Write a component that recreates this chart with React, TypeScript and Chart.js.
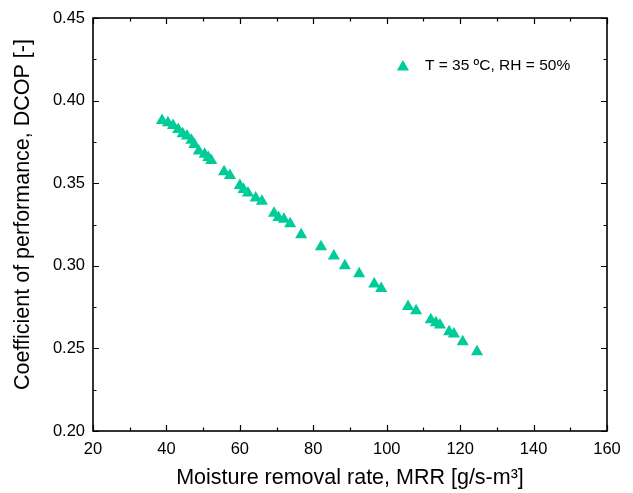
import React, { useEffect, useRef } from 'react';
import { Chart, registerables } from 'chart.js';

Chart.register(...registerables);

// Moisture removal rate, MRR [g/s-m3]
const mrr = [
  38.8, 40.4, 41.8, 43.2, 44.4, 45.6, 46.8, 47.6, 48.8, 50.4, 51.4, 52.2,
  55.7, 57.3, 60.0, 61.0, 62.2, 64.3, 66.0, 69.3, 70.5, 72.0, 73.7, 76.7,
  82.1, 85.6, 88.6, 92.5, 96.6, 98.5, 105.8, 108.0, 112.0, 113.4, 114.5,
  117.0, 118.3, 120.7, 124.6,
];
// Coefficient of performance, DCOP [-]
const dcop = [
  0.388, 0.3866, 0.385, 0.3825, 0.380, 0.3785, 0.376, 0.3735, 0.3695, 0.3675,
  0.3655, 0.3638, 0.357, 0.3546, 0.3486, 0.3462, 0.344, 0.341, 0.339, 0.3318,
  0.3292, 0.3282, 0.3255, 0.3188, 0.3116, 0.306, 0.3001, 0.2952, 0.2890,
  0.2862, 0.2753, 0.2728, 0.2674, 0.2655, 0.2642, 0.2601, 0.2587, 0.2541,
  0.2480,
];
const seriesLabel = 'T = 35 \u00BAC, RH = 50%';
const xTitle = 'Moisture removal rate, MRR [g/s-m\u00B3]';
const yTitle = 'Coefficient of performance, DCOP [-]';
const xRange = [20, 160];
const yRange = [0.2, 0.45];
const xMajorStep = 20;
const xMinorStep = 10;
const yMajorStep = 0.05;
const yMinorStep = 0.025;

const COLOR = '#00CC99';
const FONT = '"Liberation Sans", Arial, sans-serif';

const framePlugin = {
  id: 'frameTicks',
  afterDraw(chart: any) {
    const { ctx, chartArea, scales } = chart;
    const { left, right, top, bottom } = chartArea;
    const x = scales.x;
    const y = scales.y;
    ctx.save();
    ctx.strokeStyle = '#000';
    ctx.lineWidth = 1.2;
    // x ticks (bottom and top, inward)
    const nx = Math.round((xRange[1] - xRange[0]) / xMinorStep);
    for (let i = 0; i <= nx; i++) {
      const v = xRange[0] + i * xMinorStep;
      const px = Math.round(x.getPixelForValue(v)) + 0.5;
      const major = Math.abs(v / xMajorStep - Math.round(v / xMajorStep)) < 1e-6;
      const len = major ? 6 : 3.5;
      ctx.beginPath();
      ctx.moveTo(px, bottom);
      ctx.lineTo(px, bottom - len);
      ctx.moveTo(px, top);
      ctx.lineTo(px, top + len);
      ctx.stroke();
    }
    const ny = Math.round((yRange[1] - yRange[0]) / yMinorStep);
    for (let i = 0; i <= ny; i++) {
      const v = yRange[0] + i * yMinorStep;
      const py = Math.round(y.getPixelForValue(v)) + 0.5;
      const len = i % 2 === 0 ? 6 : 3.5;
      ctx.beginPath();
      ctx.moveTo(left, py);
      ctx.lineTo(left + len, py);
      ctx.moveTo(right, py);
      ctx.lineTo(right - len, py);
      ctx.stroke();
    }
    ctx.lineWidth = 1.6;
    ctx.strokeRect(left, top, right - left, bottom - top);

    // legend inside the plot area
    const ds = chart.data.datasets[0];
    const lx = left + (right - left) * 0.603;
    const ly = top + 49;
    const r = 7;
    ctx.fillStyle = ds.backgroundColor;
    ctx.beginPath();
    ctx.moveTo(lx, ly - r);
    ctx.lineTo(lx + r * Math.sin(Math.PI / 3), ly + r / 2);
    ctx.lineTo(lx - r * Math.sin(Math.PI / 3), ly + r / 2);
    ctx.closePath();
    ctx.fill();
    ctx.fillStyle = '#000';
    ctx.font = `15.5px ${FONT}`;
    ctx.textBaseline = 'middle';
    ctx.textAlign = 'left';
    ctx.fillText(ds.label, lx + 22, top + 48);

    // y-axis title
    ctx.save();
    ctx.translate(23, top + (bottom - top) / 2 - 10);
    ctx.rotate(-Math.PI / 2);
    ctx.font = `21.5px ${FONT}`;
    ctx.textAlign = 'center';
    ctx.textBaseline = 'middle';
    ctx.fillText(yTitle, 0, 0);
    ctx.restore();
    ctx.restore();
  },
};

export default function App() {
  const ref = useRef<HTMLCanvasElement | null>(null);

  useEffect(() => {
    if (!ref.current) return;
    const chart = new Chart(ref.current, {
      type: 'scatter',
      data: {
        datasets: [
          {
            label: seriesLabel,
            data: mrr.map((v, i) => ({ x: v, y: dcop[i] })),
            backgroundColor: COLOR,
            borderColor: COLOR,
            borderWidth: 0,
            pointStyle: 'triangle',
            pointRadius: 7,
            pointHoverRadius: 7,
          },
        ],
      },
      options: {
        animation: false,
        responsive: false,
        maintainAspectRatio: false,
        events: [],
        layout: { padding: { left: 0, top: 18, right: 26, bottom: 0 } },
        plugins: {
          legend: { display: false },
          tooltip: { enabled: false },
        },
        scales: {
          x: {
            type: 'linear',
            min: xRange[0],
            max: xRange[1],
            afterFit: (s: any) => {
              s.height = 62;
            },
            grid: { display: false, drawTicks: false },
            border: { display: false },
            ticks: {
              stepSize: xMajorStep,
              padding: 9,
              color: '#000',
              font: { family: FONT, size: 16.5 },
              maxRotation: 0,
            },
            title: {
              display: true,
              text: xTitle,
              color: '#000',
              font: { family: FONT, size: 21.5 },
              padding: { top: 0, bottom: 2 },
            },
          },
          y: {
            type: 'linear',
            min: yRange[0],
            max: yRange[1],
            afterFit: (s: any) => {
              s.width = 93;
            },
            grid: { display: false, drawTicks: false },
            border: { display: false },
            ticks: {
              stepSize: yMajorStep,
              padding: 8,
              color: '#000',
              font: { family: FONT, size: 16.5 },
              callback: (v: any) => Number(v).toFixed(2),
            },
            title: { display: false },
          },
        },
      },
      plugins: [framePlugin],
    });
    return () => chart.destroy();
  }, []);

  return (
    <div style={{ position: 'absolute', left: 0, top: 0, width: 633, height: 493, background: '#fff' }}>
      <canvas ref={ref} width={633} height={493} style={{ display: 'block' }} />
    </div>
  );
}
